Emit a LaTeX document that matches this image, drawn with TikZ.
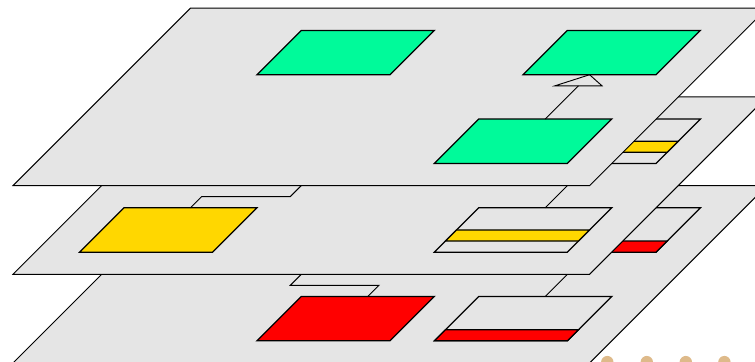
\documentclass[tikz,border=0pt]{standalone}
\usetikzlibrary{calc}
\definecolor{sheet}{RGB}{229,229,229}
\definecolor{mint}{RGB}{0,250,154}
\definecolor{gold}{RGB}{255,215,0}
\definecolor{alarm}{RGB}{255,0,0}
\definecolor{sand}{RGB}{222,186,138}

\begin{document}
\begin{tikzpicture}[
 layer/.style={draw=black,fill=sheet,line width=.6pt},
 cls/.style={draw=black,line width=.8pt,transform shape,minimum width=3cm,minimum height=1cm,inner sep=0pt,outer sep=0pt},
 band/.style={cls,minimum height=.25cm},
 wire/.style={draw=black,line width=.6pt},
 sheared/.style={xslant=1}]
\useasboundingbox (-.293,.045) rectangle (16.73,8.185);
\clip (-.293,.045) rectangle (16.73,8.185);
\begin{scope}[sheared]
\draw[layer] (0,0) rectangle (13,4);
\node[cls,fill=alarm] (b1) at (6.5,1) {};
\node[cls] (b3) at (10.5,1) {};
\node[band,fill=alarm] (b3s) at (10.5,.625) {};
\node[cls] (b2) at (10.5,3) {};
\node[band,fill=alarm] (b2s) at (10.5,2.625) {};
\coordinate (b-end) at (4.5,2.5);
\draw[wire] (b1.north)--(6.5,1.75)--(4.5,1.75)--(b-end);
\draw[wire] (b3.north)--(b2.south);
\end{scope}
\begin{scope}[yshift=2cm,sheared]
\draw[layer] (0,0) rectangle (13,4);
\node[cls,fill=gold] (m1) at (2.5,1) {};
\node[cls] (m3) at (10.5,1) {};
\node[band,fill=gold] (m3s) at (10.5,.875) {};
\node[cls] (m2) at (10.5,3) {};
\node[band,fill=gold] (m2s) at (10.5,2.875) {};
\coordinate (m-end) at (4.5,2.5);
\draw[wire] (m1.north)--(2.5,1.75)--(4.5,1.75)--(m-end);
\draw[wire] (m3.north)--(m2.south);
\end{scope}
\begin{scope}[yshift=4cm,sheared]
\draw[layer] (0,0) rectangle (13,4);
\node[cls,fill=mint] (t1) at (4.5,3) {};
\node[cls,fill=mint] (t2) at (10.5,3) {};
\node[cls,fill=mint] (t3) at (10.5,1) {};
\coordinate (t-base) at (10.5,2.25);
\draw[wire] (t3.north)--(t-base);
\draw[wire] (t2.south)--(9.97,2.25)--(11.03,2.25)--cycle;
\end{scope}
\foreach \x in {13.40,14.29,15.17,16.04}
 \fill[sand] (\x,.02) circle (.14);
\end{tikzpicture}
\end{document}
